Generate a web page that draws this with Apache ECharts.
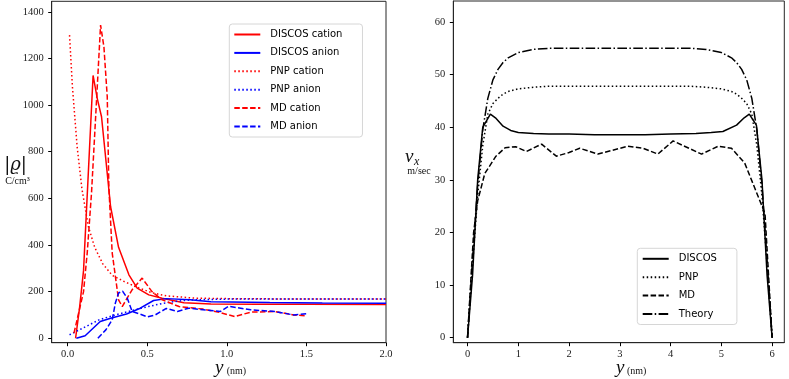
<!DOCTYPE html>
<html><head><meta charset="utf-8">
<script src="https://cdn.jsdelivr.net/npm/echarts@6/dist/echarts.min.js"></script>
<style>html,body{margin:0;padding:0;background:#fff}#c{width:789px;height:379px}</style>
</head><body><div id="c"></div>
<script>
// ---------- Left panel: charge density |rho| (C/cm^3) vs y (nm) ----------
const leftXTicks = [0, 0.5, 1.0, 1.5, 2.0];
const leftYTicks = [0, 200, 400, 600, 800, 1000, 1200, 1400];

const discosCationX = [0.05, 0.075, 0.1, 0.16, 0.186, 0.213, 0.27, 0.32, 0.385, 0.437, 0.51, 0.594, 0.73, 0.9, 1.2, 1.5, 2.0];
const discosCationY = [0, 130, 290, 1127, 1029, 950, 564, 390, 272, 215, 186, 172, 152, 147, 146, 146, 145];

const discosAnionX = [0.055, 0.11, 0.205, 0.27, 0.37, 0.456, 0.54, 0.62, 0.77, 0.9, 1.27, 1.6, 2.0];
const discosAnionY = [0, 11, 72, 86, 104, 129, 162, 170, 165, 157, 153, 151, 150];

const pnpCationX = [0.012, 0.03, 0.06, 0.09, 0.13, 0.17, 0.22, 0.28, 0.35, 0.45, 0.53, 0.62, 0.8, 1.0, 1.5, 2.0];
const pnpCationY = [1300, 1080, 820, 640, 480, 390, 320, 270, 245, 215, 195, 182, 172, 170, 168, 168];

const pnpAnionX = [0.012, 0.1, 0.2, 0.3, 0.4, 0.5, 0.6, 0.7, 0.8, 1.0, 1.5, 2.0];
const pnpAnionY = [15, 45, 80, 100, 118, 135, 150, 160, 165, 168, 168, 168];

const mdCationX = [0.04, 0.1, 0.123, 0.15, 0.175, 0.207, 0.228, 0.249, 0.259, 0.28, 0.32, 0.343, 0.405, 0.468, 0.53, 0.594, 0.7, 0.85, 0.96, 1.05, 1.15, 1.3, 1.42, 1.5];
const mdCationY = [22, 200, 365, 622, 936, 1343, 1250, 1035, 650, 366, 165, 136, 208, 258, 200, 165, 136, 125, 110, 93, 112, 115, 100, 96];

const mdAnionX = [0.19, 0.24, 0.28, 0.3, 0.32, 0.345, 0.375, 0.405, 0.45, 0.5, 0.55, 0.62, 0.69, 0.76, 0.96, 1.01, 1.15, 1.3, 1.42, 1.5];
const mdAnionY = [0, 36, 79, 151, 194, 202, 172, 115, 105, 92, 100, 128, 115, 129, 115, 137, 122, 115, 100, 105];

// ---------- Right panel: velocity v_x (m/sec) vs y (nm) ----------
const rightXTicks = [0, 1, 2, 3, 4, 5, 6];
const rightYTicks = [0, 10, 20, 30, 40, 50, 60];

const discosVX = [0, 0.1, 0.2, 0.3, 0.45, 0.55, 0.7, 0.85, 1.0, 1.3, 1.6, 2.0, 2.5, 3.0, 3.5, 4.0, 4.5, 4.8, 5.03, 5.3, 5.45, 5.55, 5.69, 5.8, 5.9, 6.0];
const discosVY = [0, 12, 30, 40, 42.5, 41.8, 40.2, 39.4, 39.0, 38.8, 38.7, 38.7, 38.6, 38.6, 38.6, 38.7, 38.8, 39.0, 39.2, 40.4, 41.8, 42.5, 40.4, 30, 12, 0];

const pnpVX = [0, 0.1, 0.2, 0.3, 0.4, 0.5, 0.6, 0.7, 0.8, 1.0, 1.3, 1.6, 2, 3, 4, 4.4, 4.7, 5.0, 5.2, 5.3, 5.4, 5.5, 5.6, 5.7, 5.8, 5.9, 6];
const pnpVY = [0, 14, 27, 36.5, 42.5, 44.5, 45.5, 46.3, 46.8, 47.3, 47.6, 47.8, 47.8, 47.8, 47.8, 47.8, 47.6, 47.3, 46.8, 46.3, 45.5, 44.5, 42.5, 36.5, 27, 14, 0];

const mdVX = [0, 0.12, 0.2, 0.34, 0.56, 0.74, 0.95, 1.16, 1.46, 1.75, 2.0, 2.21, 2.57, 3.16, 3.46, 3.75, 4.05, 4.61, 4.94, 5.2, 5.46, 5.66, 5.86, 6.0];
const mdVY = [0, 20, 26, 31.2, 34.5, 36.1, 36.3, 35.4, 36.8, 34.5, 35.2, 36.0, 34.9, 36.4, 36.0, 34.9, 37.4, 34.9, 36.4, 36.0, 33.2, 28.4, 23.6, 0];

const theoryVX = [0, 0.1, 0.2, 0.3, 0.4, 0.5, 0.6, 0.7, 0.8, 1.0, 1.3, 1.6, 2, 3, 4, 4.4, 4.7, 5.0, 5.2, 5.3, 5.4, 5.5, 5.6, 5.7, 5.8, 5.9, 6];
const theoryVY = [0, 15, 29, 39.5, 45.5, 49, 51, 52.3, 53.2, 54.2, 54.8, 55, 55, 55, 55, 55, 54.8, 54.2, 53.2, 52.3, 51, 49, 45.5, 39.5, 29, 15, 0];

function zip(xs, ys) { return xs.map((x, i) => [x, ys[i]]); }

const RED = '#ff0000', BLUE = '#0000ff', BLACK = '#000000';
const SOLID = 'solid';
const DASH = [5.5, 2.4];
const DOT = [1.5, 2.5];
const DASHDOT = [9.6, 2.4, 1.5, 2.4];
const serif = 'Liberation Serif';
const AX = '#262626';

function mk(name, xs, ys, color, type, gi) {
  return {
    name, type: 'line', xAxisIndex: gi, yAxisIndex: gi,
    data: zip(xs, ys), symbol: 'none', showSymbol: false, silent: true,
    lineStyle: { color, width: 1.5, type },
    itemStyle: { color },
    animation: false
  };
}

function xAxisCfg(gi, min, max, ticks, fmt) {
  return {
    type: 'value', gridIndex: gi, min, max,
    axisLine: { show: true, onZero: false, lineStyle: { color: AX, width: 1 } },
    splitLine: { show: false },
    axisTick: { show: true, inside: false, customValues: ticks, length: 3.5, lineStyle: { color: '#000', width: 1 } },
    axisLabel: { customValues: ticks, formatter: fmt, fontFamily: serif, fontSize: 10.5, color: '#222', margin: 6 }
  };
}
function yAxisCfg(gi, min, max, ticks) {
  return {
    type: 'value', gridIndex: gi, min, max,
    axisLine: { show: true, onZero: false, lineStyle: { color: AX, width: 1 } },
    splitLine: { show: false },
    axisTick: { show: true, inside: false, customValues: ticks, length: 3.5, lineStyle: { color: '#000', width: 1 } },
    axisLabel: { customValues: ticks, formatter: v => String(v), fontFamily: serif, fontSize: 10.5, color: '#222', margin: 8 }
  };
}

const legendCommon = {
  orient: 'vertical',
  itemWidth: 26, itemHeight: 10, itemGap: 8.4,
  backgroundColor: 'rgba(255,255,255,0.85)',
  borderColor: '#d6d6d6', borderWidth: 1, borderRadius: 3,
  itemStyle: { opacity: 0 },
  textStyle: { fontFamily: 'DejaVu Sans', fontSize: 10, color: '#000', padding: [0, 0, 0, 5] },
  selectedMode: false
};

const option = {
  animation: false,
  backgroundColor: '#fff',
  grid: [
    { left: 51.7, top: 1.3, width: 334.3, height: 341.4, show: true, borderColor: AX, borderWidth: 1, backgroundColor: 'transparent' },
    { left: 453.3, top: 1, width: 331, height: 341.7, show: true, borderColor: AX, borderWidth: 1, backgroundColor: 'transparent' }
  ],
  xAxis: [
    xAxisCfg(0, -0.1, 2.0, leftXTicks, v => v.toFixed(1)),
    xAxisCfg(1, -0.28, 6.24, rightXTicks, v => String(v))
  ],
  yAxis: [
    yAxisCfg(0, -19, 1445, leftYTicks),
    yAxisCfg(1, -0.95, 64, rightYTicks)
  ],
  legend: [
    Object.assign({}, legendCommon, {
      left: 229.3, top: 24, padding: [5.5, 20, 5.5, 4],
      data: ['DISCOS cation', 'DISCOS anion', 'PNP cation', 'PNP anion', 'MD cation', 'MD anion']
    }),
    Object.assign({}, legendCommon, {
      left: 637.3, top: 248.3, padding: [5.5, 20, 5.5, 4.4],
      data: ['DISCOS', 'PNP', 'MD', 'Theory']
    })
  ],
  series: [
    mk('DISCOS cation', discosCationX, discosCationY, RED, SOLID, 0),
    mk('DISCOS anion', discosAnionX, discosAnionY, BLUE, SOLID, 0),
    mk('PNP cation', pnpCationX, pnpCationY, RED, DOT, 0),
    mk('PNP anion', pnpAnionX, pnpAnionY, BLUE, DOT, 0),
    mk('MD cation', mdCationX, mdCationY, RED, DASH, 0),
    mk('MD anion', mdAnionX, mdAnionY, BLUE, DASH, 0),
    mk('DISCOS', discosVX, discosVY, BLACK, SOLID, 1),
    mk('PNP', pnpVX, pnpVY, BLACK, DOT, 1),
    mk('MD', mdVX, mdVY, BLACK, DASH, 1),
    mk('Theory', theoryVX, theoryVY, BLACK, DASHDOT, 1)
  ],
  graphic: [
    { type: 'text', x: 15.5, y: 165, style: { text: '|ϱ|', font: 'italic 18px "DejaVu Serif"', fill: '#111', align: 'center', verticalAlign: 'middle' } },
    { type: 'text', x: 17.5, y: 181, style: { text: 'C/cm³', font: '10px "Liberation Serif"', fill: '#111', align: 'center', verticalAlign: 'middle' } },
    { type: 'text', x: 405, y: 157, style: { text: 'v', font: 'italic 19px "Liberation Serif"', fill: '#111', align: 'left', verticalAlign: 'middle' } },
    { type: 'text', x: 414, y: 162, style: { text: 'x', font: 'italic 12px "Liberation Serif"', fill: '#111', align: 'left', verticalAlign: 'middle' } },
    { type: 'text', x: 419, y: 171, style: { text: 'm/sec', font: '10px "Liberation Serif"', fill: '#111', align: 'center', verticalAlign: 'middle' } },
    { type: 'text', x: 215, y: 368, style: { text: 'y', font: 'italic 19px "Liberation Serif"', fill: '#111', align: 'left', verticalAlign: 'middle' } },
    { type: 'text', x: 226.7, y: 371, style: { text: '(nm)', font: '10px "Liberation Serif"', fill: '#111', align: 'left', verticalAlign: 'middle' } },
    { type: 'text', x: 616, y: 368, style: { text: 'y', font: 'italic 19px "Liberation Serif"', fill: '#111', align: 'left', verticalAlign: 'middle' } },
    { type: 'text', x: 627, y: 371, style: { text: '(nm)', font: '10px "Liberation Serif"', fill: '#111', align: 'left', verticalAlign: 'middle' } }
  ]
};

const chart = echarts.init(document.getElementById('c'), null, { renderer: 'canvas' });
chart.setOption(option);
</script>
</body></html>
